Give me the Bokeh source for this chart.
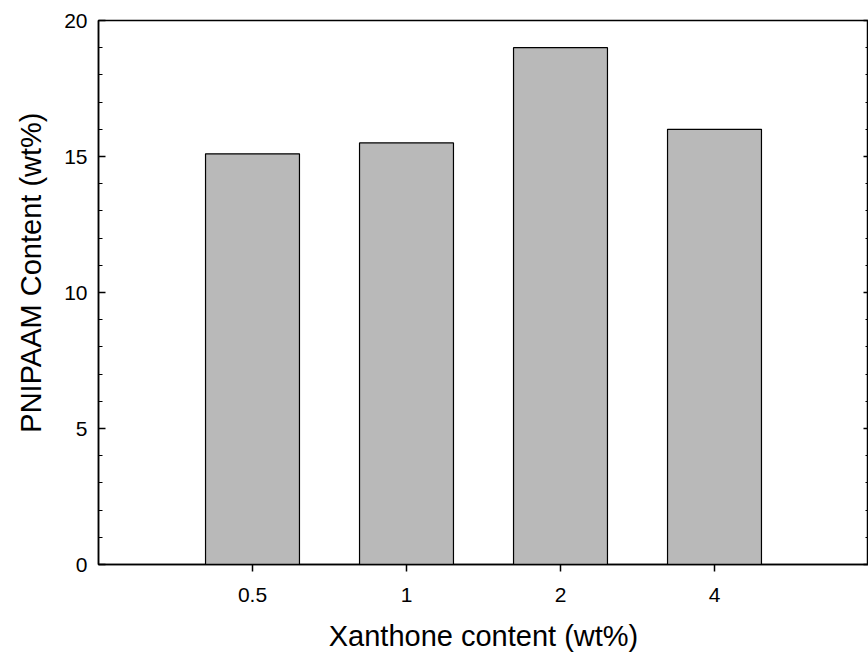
from bokeh.plotting import figure
from bokeh.models import FactorRange, Range1d, LinearAxis, SingleIntervalTicker, Title, ColumnDataSource
from bokeh.embed import file_html
from bokeh.resources import INLINE

# data
categories = ["0.5", "1", "2", "4"]
pnipaam = [15.1, 15.5, 19.0, 16.0]
y_ticks_step = 5

FONT = "Liberation Sans"

source = ColumnDataSource(dict(cat=categories, val=pnipaam))

p = figure(
    width=868, height=658,
    x_range=FactorRange(*categories, range_padding=0.5, range_padding_units="absolute"),
    y_range=Range1d(0, 20),
    output_backend="svg", toolbar_location=None,
    min_border_left=98, min_border_right=0, min_border_top=20, min_border_bottom=94,
)
p.vbar(x="cat", top="val", width=0.61, source=source,
       fill_color="#b9b9b9", line_color="black", line_width=1.2)

p.xgrid.visible = False
p.ygrid.visible = False
p.outline_line_color = "black"
p.outline_line_width = 1.5
p.background_fill_color = "white"
p.border_fill_color = "white"

# x axis
xa = p.xaxis[0]
xa.axis_label = "Xanthone content (wt%)"
xa.axis_label_text_font = FONT
xa.axis_label_text_font_size = "29px"
xa.axis_label_text_font_style = "normal"
xa.axis_label_text_color = "black"
xa.axis_label_standoff = 15
xa.major_label_text_font = FONT
xa.major_label_text_font_size = "21px"
xa.major_label_text_color = "black"
xa.major_label_standoff = 16
xa.major_tick_out = 7
xa.major_tick_in = 0
xa.major_tick_line_width = 1.5
xa.axis_line_width = 1.5
xa.axis_line_color = "black"
xa.major_tick_line_color = "black"

# y axis
ya = p.yaxis[0]
ya.ticker = SingleIntervalTicker(interval=y_ticks_step, num_minor_ticks=5)
ya.axis_label = None
ya.major_label_text_font = FONT
ya.major_label_text_font_size = "21px"
ya.major_label_text_color = "black"
ya.major_label_standoff = 11
ya.major_tick_in = 7
ya.major_tick_out = 0
ya.minor_tick_in = 4
ya.minor_tick_out = 0
ya.major_tick_line_width = 1.5
ya.axis_line_width = 1.5
ya.axis_line_color = "black"
ya.major_tick_line_color = "black"
ya.minor_tick_line_color = "black"

# right axis (mirror ticks, no labels)
ra = LinearAxis(ticker=SingleIntervalTicker(interval=y_ticks_step, num_minor_ticks=5))
ra.major_label_text_font_size = "0px"
ra.major_label_text_alpha = 0
ra.major_tick_in = 5
ra.major_tick_out = 0
ra.minor_tick_in = 3
ra.minor_tick_out = 0
ra.major_tick_line_width = 1.5
ra.axis_line_color = None
ra.major_label_standoff = 0
p.add_layout(ra, "right")

# y axis title as a left-side title (shifted slightly above frame centre)
ytitle = Title(text="PNIPAAM Content (wt%)", align="right", offset=92,
               vertical_align="top",
               text_font=FONT, text_font_size="29px", text_font_style="normal",
               text_color="black", standoff=26)
p.add_layout(ytitle, "left")

open("out.html", "w").write(file_html(p, INLINE))
